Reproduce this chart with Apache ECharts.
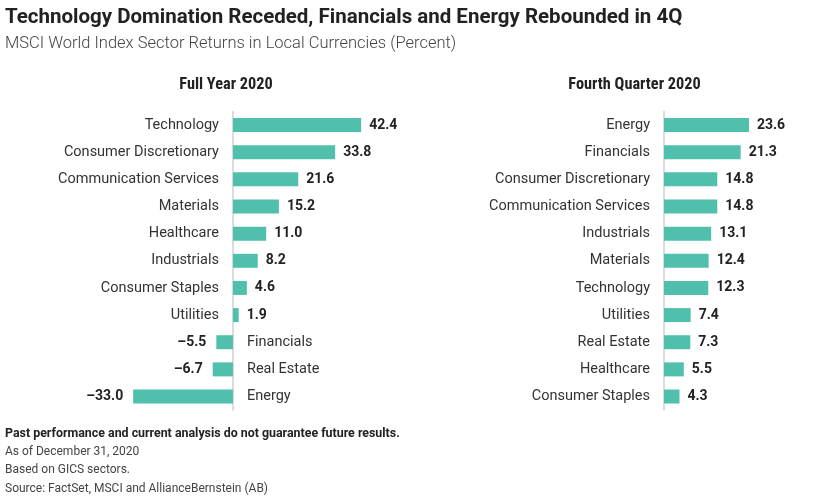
<!DOCTYPE html>
<html><head><meta charset="utf-8">
<script src="https://cdn.jsdelivr.net/npm/echarts@6/dist/echarts.min.js"></script>
<style>html,body{margin:0;padding:0;background:#fff}#c{width:840px;height:498px}</style>
</head><body><div id="c"></div>
<script>
const yearCategories = ['Technology','Consumer Discretionary','Communication Services','Materials','Healthcare','Industrials','Consumer Staples','Utilities','Financials','Real Estate','Energy'];
const yearValues = [42.4, 33.8, 21.6, 15.2, 11.0, 8.2, 4.6, 1.9, -5.5, -6.7, -33.0];
const qtrCategories = ['Energy','Financials','Consumer Discretionary','Communication Services','Industrials','Materials','Technology','Utilities','Real Estate','Healthcare','Consumer Staples'];
const qtrValues = [23.6, 21.3, 14.8, 14.8, 13.1, 12.4, 12.3, 7.4, 7.3, 5.5, 4.3];

const BAR = '#50BFAC';
const catFont = 'Roboto, "Noto Sans", sans-serif';
const condFont = '"Liberation Sans Narrow", "Roboto Condensed", Roboto, sans-serif';

function valueSeries(idx, cats, vals) {
  return {
    type: 'bar', xAxisIndex: idx, yAxisIndex: idx, barWidth: 14, barGap: '-100%',
    itemStyle: { color: BAR },
    data: vals.map(v => ({
      value: v,
      label: { show: true, position: v < 0 ? 'left' : 'right', distance: v < 0 ? 10 : 8,
        formatter: p => (p.value < 0 ? '\u2013' + Math.abs(p.value).toFixed(1) : p.value.toFixed(1)),
        fontFamily: catFont, fontWeight: 'bold', fontSize: 14, color: '#222' }
    })),
    silent: true
  };
}
function nameSeries(idx, cats, vals) {
  return {
    type: 'bar', xAxisIndex: idx, yAxisIndex: idx, barWidth: 14, barGap: '-100%',
    itemStyle: { color: 'transparent' },
    data: cats.map((c, i) => ({
      value: 0,
      label: { show: true, position: vals[i] < 0 ? 'right' : 'left', distance: 14,
        formatter: () => c, fontFamily: catFont, fontSize: 14.5, color: '#333' }
    })),
    silent: true
  };
}
function yAxis(idx, cats) {
  return { type: 'category', gridIndex: idx, data: cats, inverse: true,
    axisLine: { show: true, lineStyle: { color: '#d0d0d0', width: 1.5 } },
    axisTick: { show: false }, axisLabel: { show: false } };
}
function xAxis(idx, min, max) {
  return { type: 'value', gridIndex: idx, min: min, max: max, show: false, splitLine: { show: false } };
}

const chart = echarts.init(document.getElementById('c'), null, { renderer: 'canvas' });
chart.setOption({
  animation: false,
  backgroundColor: '#fff',
  grid: [
    { left: 112, top: 111.5, width: 257, height: 298.6 },
    { left: 664, top: 111.5, width: 108, height: 298.6 }
  ],
  xAxis: [xAxis(0, -40, 45), xAxis(1, 0, 30)],
  yAxis: [yAxis(0, yearCategories), yAxis(1, qtrCategories)],
  series: [
    valueSeries(0, yearCategories, yearValues), nameSeries(0, yearCategories, yearValues),
    valueSeries(1, qtrCategories, qtrValues), nameSeries(1, qtrCategories, qtrValues)
  ],
  graphic: [
    { type: 'text', x: 5, y: 18, style: { text: 'Technology Domination Receded, Financials and Energy Rebounded in 4Q', font: 'bold 20.5px ' + catFont, fill: '#222', verticalAlign: 'middle' } },
    { type: 'text', x: 5, y: 43.5, style: { text: 'MSCI World Index Sector Returns in Local Currencies (Percent)', font: '300 16.5px ' + catFont, fill: '#444', verticalAlign: 'middle' } },
    { type: 'text', x: 226, y: 85, style: { text: 'Full Year 2020', font: 'bold 16.3px ' + condFont, fill: '#222', align: 'center', verticalAlign: 'middle' } },
    { type: 'text', x: 634.5, y: 85, style: { text: 'Fourth Quarter 2020', font: 'bold 16.3px ' + condFont, fill: '#222', align: 'center', verticalAlign: 'middle' } },
    { type: 'text', x: 5, y: 433.5, style: { text: 'Past performance and current analysis do not guarantee future results.', font: 'bold 12.4px ' + catFont, fill: '#222', verticalAlign: 'middle' } },
    { type: 'text', x: 5, y: 452, style: { text: 'As of December 31, 2020', font: '12px ' + catFont, fill: '#444', verticalAlign: 'middle' } },
    { type: 'text', x: 5, y: 470, style: { text: 'Based on GICS sectors.', font: '12px ' + catFont, fill: '#444', verticalAlign: 'middle' } },
    { type: 'text', x: 5, y: 489, style: { text: 'Source: FactSet, MSCI and AllianceBernstein (AB)', font: '12px ' + catFont, fill: '#444', verticalAlign: 'middle' } }
  ]
});
</script></body></html>
